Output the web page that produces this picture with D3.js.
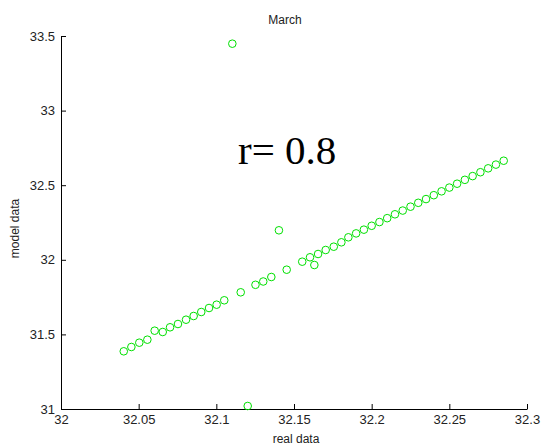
<!DOCTYPE html>
<html>
<head>
<meta charset="utf-8">
<script src="https://cdn.jsdelivr.net/npm/d3@7"></script>
<style>
  html, body { margin: 0; padding: 0; background: #fff; }
  svg { display: block; }
  .tick text { font-family: "Liberation Sans", Arial, sans-serif; font-size: 13px; fill: #222; }
</style>
</head>
<body>
<svg id="chart" width="543" height="447"></svg>
<script>
// Observed (real) values on the x axis and modelled values on the y axis
const realData = [
  32.0404, 32.0453, 32.0504, 32.0556, 32.0603, 32.0655, 32.0702, 32.0753, 32.0805, 32.0854,
  32.0903, 32.0953, 32.1002, 32.1051, 32.1103, 32.1157, 32.1202, 32.1252, 32.1302, 32.1354,
  32.1403, 32.1453, 32.1553, 32.1603, 32.1631, 32.1655, 32.1704, 32.1756, 32.1805, 32.1850,
  32.1900, 32.1950, 32.2000, 32.2050, 32.2100, 32.2150, 32.2200, 32.2250, 32.2300, 32.2350,
  32.2400, 32.2450, 32.2500, 32.2550, 32.2600, 32.2650, 32.2700, 32.2750, 32.2800, 32.2850
];
const modelData = [
  31.3867, 31.4156, 31.4444, 31.4645, 31.5248, 31.5161, 31.5476, 31.5697, 31.5985, 31.6233,
  31.6501, 31.6769, 31.6991, 31.7286, 33.4484, 31.7822, 31.0201, 31.8324, 31.8546, 31.8847,
  32.1977, 31.9336, 31.9873, 32.0168, 31.9651, 32.0389, 32.0657, 32.0878, 32.1173, 32.1508,
  32.1770, 32.2020, 32.2280, 32.2530, 32.2790, 32.3050, 32.3300, 32.3560, 32.3820, 32.4070,
  32.4330, 32.4590, 32.4840, 32.5100, 32.5360, 32.5610, 32.5870, 32.6130, 32.6380, 32.6640
];

const xTicks = [32, 32.05, 32.1, 32.15, 32.2, 32.25, 32.3];
const xTickLabels = ["32", "32.05", "32.1", "32.15", "32.2", "32.25", "32.3"];
const yTicks = [31, 31.5, 32, 32.5, 33, 33.5];
const yTickLabels = ["31", "31.5", "32", "32.5", "33", "33.5"];

const titleText = "March";
const xLabel = "real data";
const yLabel = "model data";
const note = "r= 0.8";

const svg = d3.select("#chart");
const margin = { left: 61, right: 16, top: 36, bottom: 38 };
const W = 543, H = 447;

const x = d3.scaleLinear().domain([32, 32.3]).range([margin.left, W - margin.right]);
const y = d3.scaleLinear().domain([31, 33.5]).range([H - margin.bottom, margin.top]);

// Axes with inward ticks
const xAxis = d3.axisBottom(x)
  .tickValues(xTicks)
  .tickFormat((d, i) => xTickLabels[i])
  .tickSizeInner(-5).tickSizeOuter(0).tickPadding(6);
const yAxis = d3.axisLeft(y)
  .tickValues(yTicks)
  .tickFormat((d, i) => yTickLabels[i])
  .tickSizeInner(-5).tickSizeOuter(0).tickPadding(6);

const gx = svg.append("g")
  .attr("transform", `translate(0,${H - margin.bottom})`)
  .call(xAxis);
const gy = svg.append("g")
  .attr("transform", `translate(${margin.left},0)`)
  .call(yAxis);

[gx, gy].forEach(g => {
  g.select(".domain").attr("stroke", "#000").attr("stroke-width", 1);
  g.selectAll(".tick line").attr("stroke", "#000");
});

// Scatter markers: open green circles
svg.append("g")
  .selectAll("circle")
  .data(realData.map((v, i) => [v, modelData[i]]))
  .join("circle")
  .attr("cx", d => x(d[0]))
  .attr("cy", d => y(d[1]))
  .attr("r", 3.8)
  .attr("fill", "none")
  .attr("stroke", "#00e000")
  .attr("stroke-width", 1);

// Title and axis labels
svg.append("text")
  .attr("x", 285).attr("y", 24)
  .attr("text-anchor", "middle")
  .style("font-family", "'Liberation Sans', Arial, sans-serif")
  .style("font-size", "12px")
  .attr("fill", "#222")
  .text(titleText);

svg.append("text")
  .attr("x", 296).attr("y", 443)
  .attr("text-anchor", "middle")
  .style("font-family", "'Liberation Sans', Arial, sans-serif")
  .style("font-size", "12px")
  .attr("fill", "#222")
  .text(xLabel);

svg.append("text")
  .attr("transform", `translate(19,${(margin.top + H - margin.bottom) / 2 + 6}) rotate(-90)`)
  .attr("text-anchor", "middle")
  .style("font-family", "'Liberation Sans', Arial, sans-serif")
  .style("font-size", "12px")
  .attr("fill", "#222")
  .text(yLabel);

// Correlation annotation
svg.append("text")
  .attr("x", 238).attr("y", 164)
  .style("font-family", "'Liberation Serif', 'Times New Roman', serif")
  .style("font-size", "41px")
  .attr("fill", "#000")
  .text(note);
</script>
</body>
</html>
